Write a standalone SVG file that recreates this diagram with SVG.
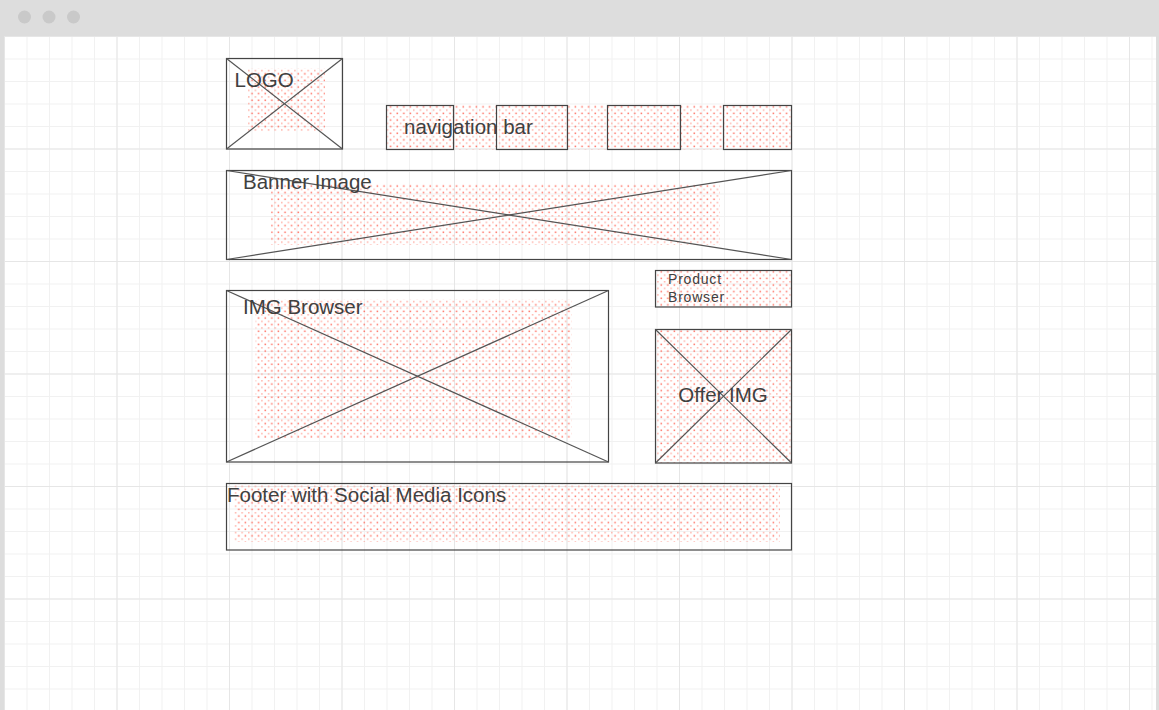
<svg xmlns="http://www.w3.org/2000/svg" width="1159" height="710" viewBox="0 0 1159 710">
<defs>
<pattern id="minor" patternUnits="userSpaceOnUse" x="4" y="36" width="22.5" height="22.5">
<path d="M0 0V22.5M0 0H22.5" fill="none" stroke="#f1f1f1" stroke-width="2"/>
</pattern>
<pattern id="major" patternUnits="userSpaceOnUse" x="4" y="36" width="112.5" height="112.5">
<path d="M0 0V112.5M0 0H112.5" fill="none" stroke="#e6e6e6" stroke-width="2"/>
</pattern>
<pattern id="dots" patternUnits="userSpaceOnUse" x="0" y="0" width="6.6" height="6.6">
<rect x="0.5" y="0.5" width="1.5" height="1.5" fill="#ff4a38"/>
<rect x="3.8" y="3.8" width="1.5" height="1.5" fill="#ff9d92"/>
</pattern>
<style>
.box{fill:none;stroke:#444;stroke-width:1.2}
.x{stroke:#555;stroke-width:1.2}
.fill{fill:url(#dots);opacity:0.8}
.t{font-family:"Liberation Sans",Arial,sans-serif;font-size:20.5px;fill:#404040}
.s{font-family:"Liberation Sans",Arial,sans-serif;font-size:14px;fill:#404040;letter-spacing:0.8px}
</style>
</defs>
<rect width="1159" height="710" fill="#dddddd"/>
<rect x="4" y="36" width="1152" height="674" fill="#ffffff"/>
<rect x="4" y="36" width="1152" height="674" fill="url(#minor)"/>
<rect x="4" y="36" width="1152" height="674" fill="url(#major)"/>
<g id="window-dots" fill="#c9c9c9">
<circle cx="24.5" cy="17" r="6.5"/>
<circle cx="49" cy="17" r="6.5"/>
<circle cx="73.5" cy="17" r="6.5"/>
</g>
<g id="logo">
<rect class="fill" x="248" y="68" width="77" height="64"/>
<rect class="box" x="226.5" y="58.5" width="116" height="90.5"/>
<line class="x" x1="226.5" y1="58.5" x2="342.5" y2="149"/>
<line class="x" x1="342.5" y1="58.5" x2="226.5" y2="149"/>
<text class="t" x="234.5" y="86.5">LOGO</text>
</g>
<g id="nav">
<rect class="fill" x="386" y="105" width="405.5" height="44.5"/>
<rect class="box" x="386.5" y="105.5" width="67" height="44"/>
<rect class="box" x="496.5" y="105.5" width="71" height="44"/>
<rect class="box" x="607.5" y="105.5" width="73" height="44"/>
<rect class="box" x="723.5" y="105.5" width="68" height="44"/>
<text class="t" x="404" y="134">navigation bar</text>
</g>
<g id="banner">
<rect class="fill" x="271" y="184" width="449" height="61"/>
<rect class="box" x="226.5" y="170.5" width="565" height="89"/>
<line class="x" x1="226.5" y1="170.5" x2="791.5" y2="259.5"/>
<line class="x" x1="791.5" y1="170.5" x2="226.5" y2="259.5"/>
<text class="t" x="243" y="188.5">Banner Image</text>
</g>
<g id="product-browser">
<rect class="fill" x="655.5" y="270.5" width="136" height="36.5"/>
<rect class="box" x="655.5" y="270.5" width="136" height="36.5"/>
<text class="s" x="668" y="283.5">Product</text>
<text class="s" x="668" y="302">Browser</text>
</g>
<g id="img-browser">
<rect class="fill" x="255.5" y="299" width="316" height="139"/>
<rect class="box" x="226.5" y="290.5" width="382" height="171.5"/>
<line class="x" x1="226.5" y1="290.5" x2="608.5" y2="462"/>
<line class="x" x1="608.5" y1="290.5" x2="226.5" y2="462"/>
<text class="t" x="243" y="314">IMG Browser</text>
</g>
<g id="offer-img">
<rect class="fill" x="655.5" y="329.5" width="136" height="133.5"/>
<rect class="box" x="655.5" y="329.5" width="136" height="133.5"/>
<line class="x" x1="655.5" y1="329.5" x2="791.5" y2="463"/>
<line class="x" x1="791.5" y1="329.5" x2="655.5" y2="463"/>
<text class="t" x="723" y="402" text-anchor="middle">Offer IMG</text>
</g>
<g id="footer">
<rect class="fill" x="234" y="484" width="546" height="58"/>
<rect class="box" x="226.5" y="483.5" width="565" height="66.5"/>
<text class="t" x="227" y="502">Footer with Social Media Icons</text>
</g>
<g id="connectors"/>
</svg>
